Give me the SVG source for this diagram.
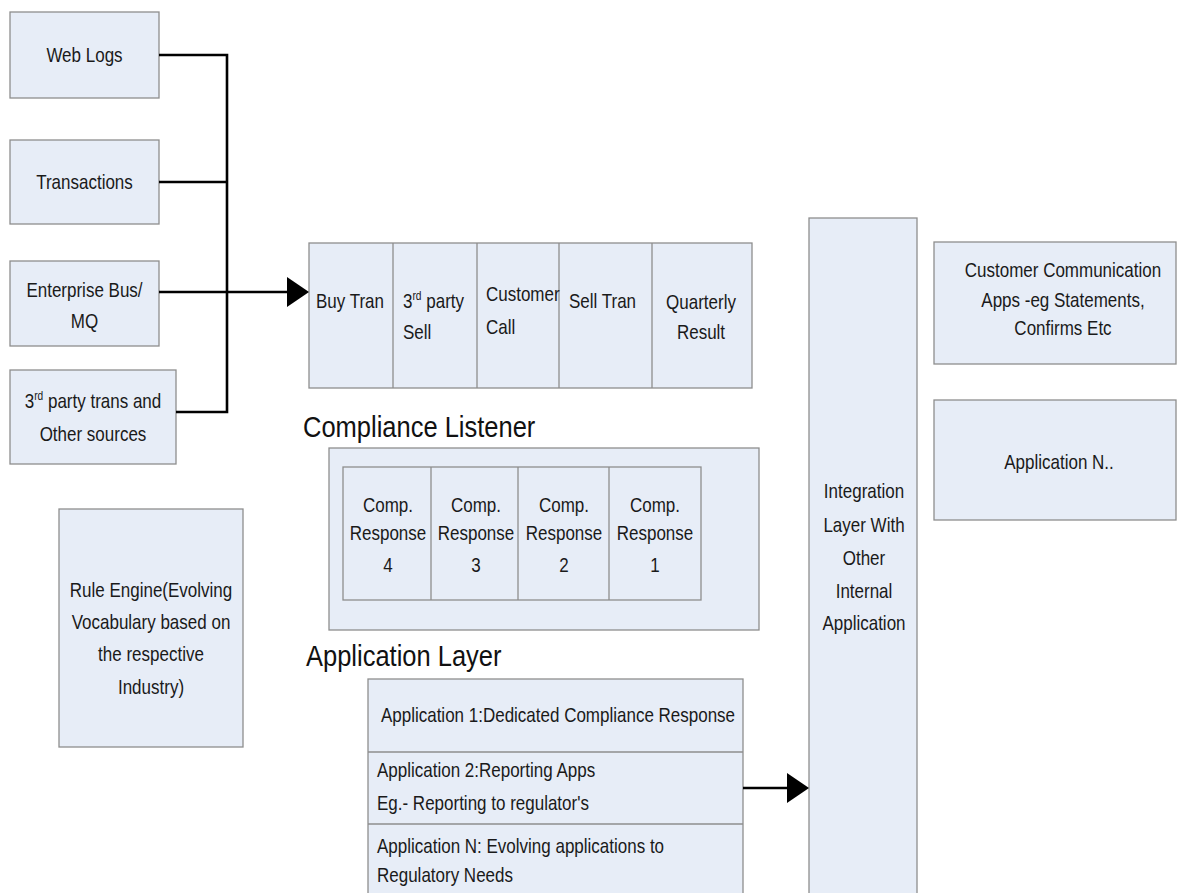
<svg xmlns="http://www.w3.org/2000/svg" width="1178" height="893" viewBox="0 0 1178 893">
<defs>
<style>
.box{fill:#E7EDF7;stroke:#8E8E8E;stroke-width:1.3}
.div{fill:none;stroke:#8E8E8E;stroke-width:1.3}
.t{font-family:"Liberation Sans",Arial,sans-serif;font-size:20px;fill:#1a1a1a}
.c{text-anchor:middle}
.title{font-family:"Liberation Sans",Arial,sans-serif;font-size:30px;fill:#111}
.sup{font-size:12px}
.conn{fill:none;stroke:#000;stroke-width:2.6}
</style>
<marker id="ah" markerUnits="userSpaceOnUse" markerWidth="24" markerHeight="32" refX="19" refY="15" orient="auto">
<path d="M0,0 L22,15 L0,30 Z" fill="#000"/>
</marker>
</defs>
<rect width="1178" height="893" fill="#fff"/>

<g id="web-logs">
<rect class="box" x="10" y="12" width="149" height="86"/>
<text class="t c" transform="scale(0.85,1)" x="99.41" y="62">Web Logs</text>
</g>
<g id="transactions">
<rect class="box" x="10" y="140" width="149" height="84"/>
<text class="t c" transform="scale(0.85,1)" x="99.41" y="189">Transactions</text>
</g>
<g id="enterprise-bus">
<rect class="box" x="10" y="261" width="149" height="85"/>
<text class="t c" transform="scale(0.85,1)" x="99.41" y="297">Enterprise Bus/</text>
<text class="t c" transform="scale(0.85,1)" x="99.41" y="328">MQ</text>
</g>
<g id="third-party">
<rect class="box" x="10" y="370" width="166" height="94"/>
<text class="t c" transform="scale(0.85,1)" x="109.41" y="408">3<tspan class="sup" dy="-8">rd</tspan><tspan dy="8"> party trans and</tspan></text>
<text class="t c" transform="scale(0.85,1)" x="109.41" y="441">Other sources</text>
</g>

<g id="event-row">
<rect class="box" x="309" y="243" width="443" height="145"/>
<path class="div" d="M393,243V388M477,243V388M559,243V388M652,243V388"/>
<text class="t c" transform="scale(0.85,1)" x="411.76" y="308">Buy Tran</text>
<text class="t" transform="scale(0.85,1)" x="474.12" y="308">3<tspan class="sup" dy="-8">rd</tspan><tspan dy="8"> party</tspan></text>
<text class="t" transform="scale(0.85,1)" x="474.12" y="339">Sell</text>
<text class="t" transform="scale(0.85,1)" x="571.76" y="301">Customer</text>
<text class="t" transform="scale(0.85,1)" x="571.76" y="334">Call</text>
<text class="t" transform="scale(0.85,1)" x="669.41" y="308">Sell Tran</text>
<text class="t c" transform="scale(0.85,1)" x="824.71" y="309">Quarterly</text>
<text class="t c" transform="scale(0.85,1)" x="824.71" y="339">Result</text>
</g>

<text class="title" transform="scale(0.85,1)" x="356.47" y="437">Compliance Listener</text>

<g id="compliance-listener">
<rect class="box" x="329" y="448" width="430" height="182"/>
<rect class="box" x="343" y="467" width="358" height="133"/>
<path class="div" d="M431,467V600M518,467V600M609,467V600"/>
<text class="t c" transform="scale(0.85,1)" x="456.47" y="512">Comp.</text>
<text class="t c" transform="scale(0.85,1)" x="456.47" y="540">Response</text>
<text class="t c" transform="scale(0.85,1)" x="456.47" y="572">4</text>
<text class="t c" transform="scale(0.85,1)" x="560" y="512">Comp.</text>
<text class="t c" transform="scale(0.85,1)" x="560" y="540">Response</text>
<text class="t c" transform="scale(0.85,1)" x="560" y="572">3</text>
<text class="t c" transform="scale(0.85,1)" x="663.53" y="512">Comp.</text>
<text class="t c" transform="scale(0.85,1)" x="663.53" y="540">Response</text>
<text class="t c" transform="scale(0.85,1)" x="663.53" y="572">2</text>
<text class="t c" transform="scale(0.85,1)" x="770.59" y="512">Comp.</text>
<text class="t c" transform="scale(0.85,1)" x="770.59" y="540">Response</text>
<text class="t c" transform="scale(0.85,1)" x="770.59" y="572">1</text>
</g>

<g id="rule-engine">
<rect class="box" x="59" y="509" width="184" height="238"/>
<text class="t c" transform="scale(0.85,1)" x="177.65" y="597">Rule Engine(Evolving</text>
<text class="t c" transform="scale(0.85,1)" x="177.65" y="629">Vocabulary based on</text>
<text class="t c" transform="scale(0.85,1)" x="177.65" y="661">the respective</text>
<text class="t c" transform="scale(0.85,1)" x="177.65" y="694">Industry)</text>
</g>

<text class="title" transform="scale(0.85,1)" x="360" y="666">Application Layer</text>

<g id="application-layer">
<rect class="box" x="368" y="679" width="375" height="230"/>
<path class="div" d="M368,752H743M368,824H743"/>
<text class="t c" transform="scale(0.85,1)" x="656.47" y="722">Application 1:Dedicated Compliance Response</text>
<text class="t" transform="scale(0.85,1)" x="443.53" y="777">Application 2:Reporting Apps</text>
<text class="t" transform="scale(0.85,1)" x="443.53" y="810">Eg.- Reporting to regulator's</text>
<text class="t" transform="scale(0.85,1)" x="443.53" y="853">Application N: Evolving applications to</text>
<text class="t" transform="scale(0.85,1)" x="443.53" y="882">Regulatory Needs</text>
</g>

<g id="integration-layer">
<rect class="box" x="809" y="218" width="108" height="690"/>
<text class="t c" transform="scale(0.85,1)" x="1016.47" y="498">Integration</text>
<text class="t c" transform="scale(0.85,1)" x="1016.47" y="532">Layer With</text>
<text class="t c" transform="scale(0.85,1)" x="1016.47" y="565">Other</text>
<text class="t c" transform="scale(0.85,1)" x="1016.47" y="598">Internal</text>
<text class="t c" transform="scale(0.85,1)" x="1016.47" y="630">Application</text>
</g>

<g id="customer-communication">
<rect class="box" x="934" y="242" width="242" height="122"/>
<text class="t c" transform="scale(0.85,1)" x="1250.59" y="277">Customer Communication</text>
<text class="t c" transform="scale(0.85,1)" x="1250.59" y="307">Apps -eg Statements,</text>
<text class="t c" transform="scale(0.85,1)" x="1250.59" y="335">Confirms Etc</text>
</g>

<g id="application-n">
<rect class="box" x="934" y="400" width="242" height="120"/>
<text class="t c" transform="scale(0.85,1)" x="1245.88" y="469">Application N..</text>
</g>

<g id="connectors">
<path class="conn" d="M159,55H227V412H176"/>
<path class="conn" d="M159,182H227"/>
<path class="conn" d="M159,292H306" marker-end="url(#ah)"/>
<path class="conn" d="M743,788H806" marker-end="url(#ah)"/>
</g>
</svg>
